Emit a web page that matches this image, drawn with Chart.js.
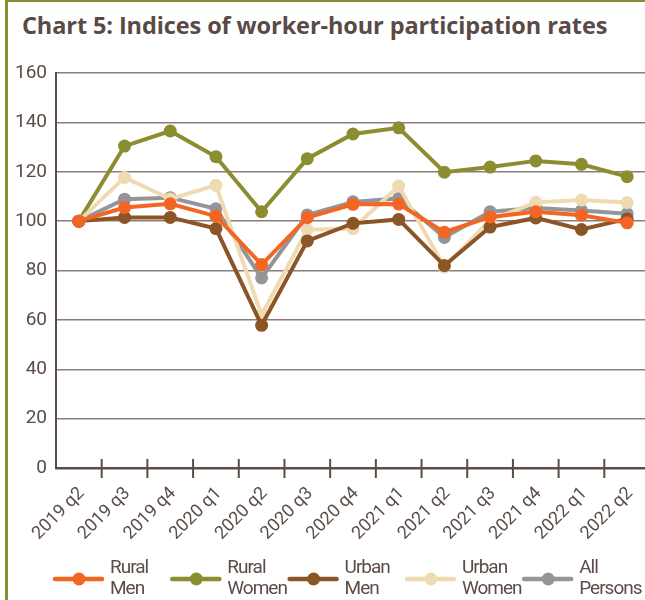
<!DOCTYPE html>
<html>
<head>
<meta charset="utf-8">
<script src="https://cdn.jsdelivr.net/npm/chart.js@4/dist/chart.umd.min.js"></script>
<style>
  html, body { margin: 0; padding: 0; background: #fff; overflow: hidden; width: 645px; height: 600px; }
  #frame { position: absolute; left: 5px; top: 0; width: 700px; height: 600px; border-left: 3px solid #8c8c31; border-top: 2px solid #8c8c31; box-sizing: border-box; }
  #title { position: absolute; left: 22px; top: 9px; font-family: "Open Sans", sans-serif; font-weight: 700; font-size: 23.5px; color: #5a4a45; white-space: nowrap; letter-spacing: -0.1px; }
  #wrap { position: absolute; left: 0; top: 0; width: 660px; height: 600px; }
</style>
</head>
<body>
<div id="frame"></div>
<div id="title">Chart 5: Indices of worker-hour participation rates</div>
<div id="wrap"><canvas id="c"></canvas></div>
<script>
const categories = ['2019 q2','2019 q3','2019 q4','2020 q1','2020 q2','2020 q3','2020 q4','2021 q1','2021 q2','2021 q3','2021 q4','2022 q1','2022 q2'];
const ruralMen   = [100, 105.5, 107, 102, 82.4, 101.4, 106.8, 106.9, 95.5, 101.7, 103.8, 102.4, 99.3];
const ruralWomen = [100, 130.4, 136.5, 126.1, 103.8, 125.3, 135.3, 137.8, 119.8, 121.9, 124.4, 123, 118];
const urbanMen   = [100, 101.5, 101.5, 97, 57.8, 92, 99.1, 100.7, 82, 97.6, 101.3, 96.6, 100.9];
const urbanWomen = [100, 117.7, 109, 114.5, 62, 96.5, 97, 114.2, 81.4, 100.4, 107.6, 108.6, 107.5];
const allPersons = [100, 108.9, 109.5, 105, 77, 102.5, 107.8, 109.2, 93.4, 103.8, 105.3, 104.3, 103];
const seriesNames = [['Rural','Men'], ['Rural','Women'], ['Urban','Men'], ['Urban','Women'], ['All','Persons']];
const yTicks = [0, 20, 40, 60, 80, 100, 120, 140, 160];

const colors = ['#f26522', '#8c8c31', '#8b5526', '#f0dab2', '#939598'];
const orders = [0, 4, 1, 2, 3];
const seriesData = [ruralMen, ruralWomen, urbanMen, urbanWomen, allPersons];
const textColor = '#5b4c47';

const datasets = seriesData.map((d, i) => ({
  label: seriesNames[i].join(' '),
  data: d,
  borderColor: colors[i],
  backgroundColor: colors[i],
  pointBackgroundColor: colors[i],
  pointBorderColor: colors[i],
  pointRadius: 6.5,
  pointBorderWidth: 0,
  borderWidth: 4,
  tension: 0,
  order: orders[i]
}));

const extras = {
  id: 'extras',
  afterDraw(chart) {
    const ctx = chart.ctx;
    const xs = chart.scales.x;
    const bottom = chart.chartArea.bottom;
    ctx.save();
    ctx.strokeStyle = '#5b4c47';
    ctx.lineWidth = 2;
    for (let i = 1; i < categories.length; i++) {
      const x = (xs.getPixelForValue(i - 1) + xs.getPixelForValue(i)) / 2;
      ctx.beginPath();
      ctx.moveTo(x, bottom - 9);
      ctx.lineTo(x, bottom + 10);
      ctx.stroke();
    }
    const cy = 579;
    chart.data.datasets.forEach((ds, i) => {
      const cx = 79 + i * 117.3;
      ctx.strokeStyle = ds.borderColor;
      ctx.lineWidth = 4.5;
      ctx.lineCap = 'round';
      ctx.beginPath();
      ctx.moveTo(cx - 24, cy);
      ctx.lineTo(cx + 23, cy);
      ctx.stroke();
      ctx.fillStyle = ds.borderColor;
      ctx.beginPath();
      ctx.arc(cx, cy, 6.5, 0, Math.PI * 2);
      ctx.fill();
      ctx.fillStyle = textColor;
      ctx.font = '19px Roboto';
      try { ctx.letterSpacing = '-1px'; } catch (e) {}
      ctx.textAlign = 'left';
      ctx.textBaseline = 'alphabetic';
      ctx.fillText(seriesNames[i][0], cx + 31, 573);
      ctx.fillText(seriesNames[i][1], cx + 31, 594);
      try { ctx.letterSpacing = '0px'; } catch (e) {}
    });
    ctx.restore();
  }
};

new Chart(document.getElementById('c'), {
  type: 'line',
  data: { labels: categories, datasets },
  options: {
    responsive: true,
    maintainAspectRatio: false,
    animation: false,
    layout: { padding: { left: 0, right: 10, top: 73, bottom: 0 } },
    plugins: { legend: { display: false }, tooltip: { enabled: false } },
    scales: {
      x: {
        offset: true,
        grid: { display: false },
        border: { display: true, color: '#5b4c47', width: 2.5 },
        ticks: {
          color: textColor,
          font: { family: 'Roboto', size: 18 },
          minRotation: 45, maxRotation: 45,
          padding: 7,
          labelOffset: 3,
          autoSkip: false
        },
        afterFit(s) { s.height = 132; }
      },
      y: {
        min: 0, max: 160,
        afterBuildTicks(s) { s.ticks = yTicks.map(v => ({ value: v })); },
        grid: { color: '#8a7d79', lineWidth: 1.5, drawTicks: false },
        border: { display: true, color: '#5b4c47', width: 2 },
        ticks: {
          color: textColor,
          font: { family: 'Roboto', size: 19 },
          padding: 9
        },
        afterFit(s) { s.width = 56; }
      }
    }
  },
  plugins: [extras]
});
</script>
</body>
</html>
